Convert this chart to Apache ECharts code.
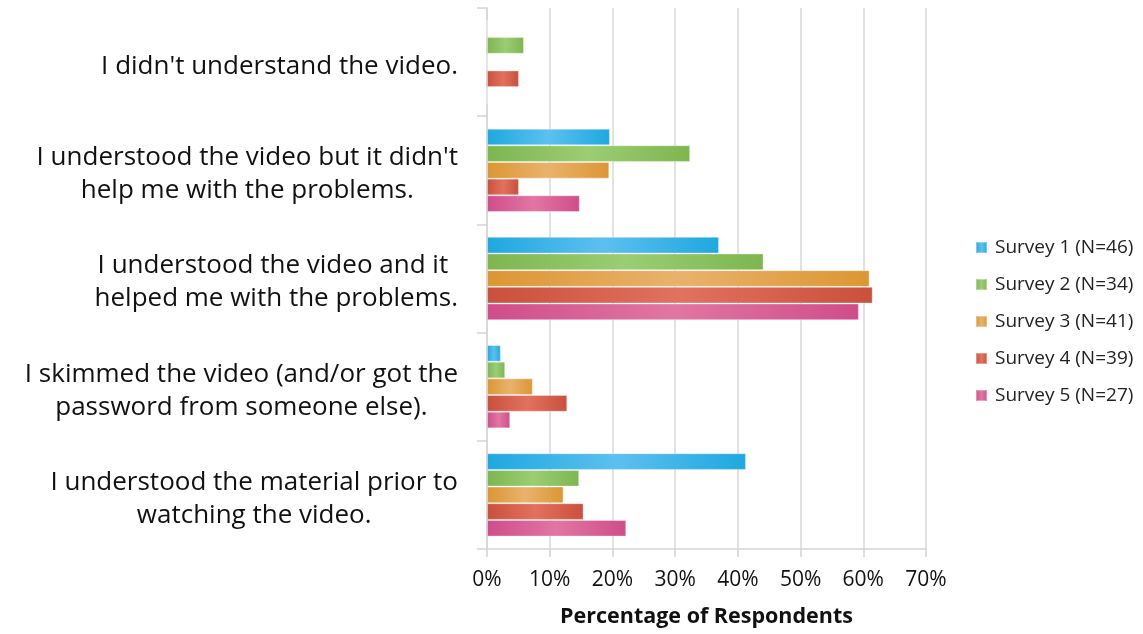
<!DOCTYPE html>
<html>
<head>
<meta charset="utf-8">
<script src="https://cdn.jsdelivr.net/npm/echarts@6/dist/echarts.min.js"></script>
<style>html,body{margin:0;padding:0;background:#fff;}#c{width:1143px;height:634px;}</style>
</head>
<body>
<div id="c"></div>
<script>
var categories = [
  "I didn't understand the video.",
  "I understood the video but it didn't\nhelp me with the problems.",
  "I understood the video and it \nhelped me with the problems.",
  "I skimmed the video (and/or got the\npassword from someone else).",
  "I understood the material prior to\nwatching the video."
];
var seriesNames = ["Survey 1 (N=46)", "Survey 2 (N=34)", "Survey 3 (N=41)", "Survey 4 (N=39)", "Survey 5 (N=27)"];
var survey1 = [0, 19.6, 37.0, 2.2, 41.3];
var survey2 = [5.9, 32.4, 44.1, 2.9, 14.7];
var survey3 = [0, 19.5, 61.0, 7.3, 12.2];
var survey4 = [5.1, 5.1, 61.5, 12.8, 15.4];
var survey5 = [0, 14.8, 59.3, 3.7, 22.2];
var xTicks = [0, 10, 20, 30, 40, 50, 60, 70];

var allData = [survey1, survey2, survey3, survey4, survey5];
var palette = [
  ['#1ea8e0', '#5cc0ef'],
  ['#7db64f', '#9bcd74'],
  ['#dc9633', '#e9b26c'],
  ['#c9503c', '#e2715f'],
  ['#cf4d8a', '#e176a3']
];
var FONT = '"Open Sans"';

var chart = echarts.init(document.getElementById('c'), null, {renderer: 'canvas'});
var series = allData.map(function (d, i) {
  return {
    name: seriesNames[i],
    type: 'bar',
    data: d,
    barGap: '0%',
    barCategoryGap: '23%',
    itemStyle: {
      color: {
        type: 'linear', x: 0, y: 0, x2: 1, y2: 0,
        colorStops: [
          {offset: 0, color: palette[i][0]},
          {offset: 0.5, color: palette[i][1]},
          {offset: 1, color: palette[i][0]}
        ]
      },
      borderColor: 'rgba(255,255,255,0.35)',
      borderWidth: 1
    }
  };
});

chart.setOption({
  animation: false,
  color: palette.map(function (p) { return p[0]; }),
  grid: {left: 487, right: 217, top: 8, bottom: 85, containLabel: false, outerBoundsMode: 'none'},
  legend: {
    orient: 'vertical',
    left: 970,
    top: 233,
    itemWidth: 11,
    itemHeight: 11,
    itemGap: 18,
    icon: 'rect',
    textStyle: {fontFamily: FONT, fontSize: 19, color: '#222', padding: [0, 0, 0, 3]},
    data: seriesNames
  },
  xAxis: {
    type: 'value',
    min: 0,
    max: 70,
    interval: 10,
    name: 'Percentage of Respondents',
    nameLocation: 'middle',
    nameGap: 57,
    nameMoveOverlap: false,
    nameTextStyle: {fontFamily: FONT, fontSize: 21.5, fontWeight: 'bold', color: '#111'},
    axisLine: {show: true, lineStyle: {color: '#d4d4d4', width: 1.5}},
    axisTick: {show: true, length: 8, lineStyle: {color: '#d4d4d4', width: 1.5}},
    splitLine: {show: true, lineStyle: {color: '#d9d9d9', width: 1.5}},
    axisLabel: {
      fontFamily: FONT, fontSize: 21, color: '#111', margin: 21,
      formatter: function (v) { return xTicks.indexOf(v) >= 0 ? v + '%' : ''; }
    }
  },
  yAxis: {
    type: 'category',
    inverse: true,
    data: categories,
    axisLine: {show: true, lineStyle: {color: '#d4d4d4', width: 1.5}},
    axisTick: {show: true, length: 10, lineStyle: {color: '#d4d4d4', width: 1.5}},
    axisLabel: {
      margin: 29,
      fontFamily: FONT,
      fontSize: 26,
      color: '#111',
      lineHeight: 33,
      padding: [8, 0, 0, 0],
      formatter: function (v) {
        return v.split('\n').map(function (l) { return '{c|' + l + '}'; }).join('\n');
      },
      rich: {c: {align: 'center', fontFamily: FONT, fontSize: 26, color: '#111', lineHeight: 33}}
    }
  },
  series: series
});
</script>
</body>
</html>
